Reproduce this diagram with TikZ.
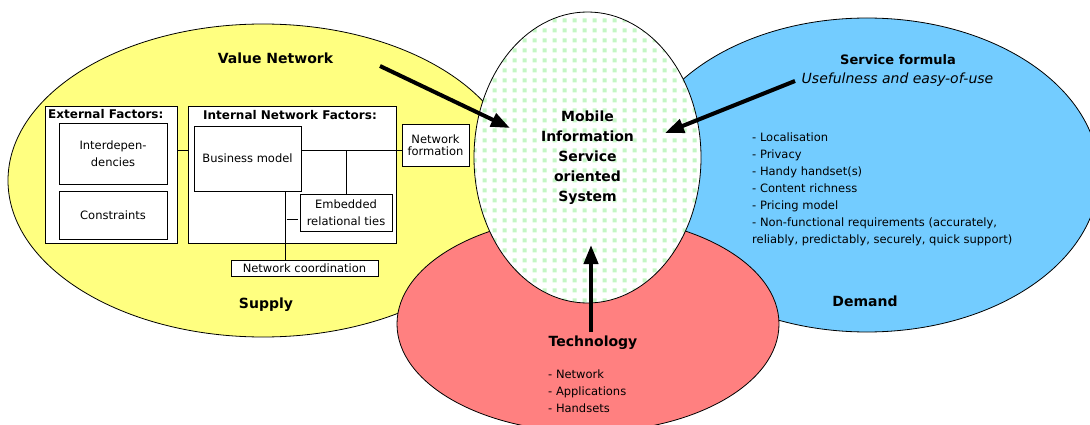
\documentclass[tikz,border=0pt]{standalone}
\usepackage{fontspec}
\setmainfont{DejaVu Sans}
\usetikzlibrary{calc}
\usetikzlibrary{arrows.meta}
\usetikzlibrary{shapes.geometric}
\usetikzlibrary{patterns}

\definecolor{supplyyellow}{RGB}{255,255,128}
\definecolor{demandblue}{RGB}{115,204,255}
\definecolor{techred}{RGB}{255,128,128}
\definecolor{dotgreen}{RGB}{196,246,196}

\pgfdeclarepatterninherentlycolored{misdots}{\pgfpointorigin}{\pgfpoint{10pt}{10pt}}{\pgfpoint{10pt}{10pt}}{
\pgfsetfillcolor{dotgreen}
\pgfpathrectangle{\pgfpoint{2.75pt}{2.75pt}}{\pgfpoint{4.5pt}{4.5pt}}
\pgfusepath{fill}
}

\begin{document}
\begin{tikzpicture}[x=1pt,y=-1pt,
  area/.style={ellipse,draw=black,line width=0.8pt,inner sep=0pt},
  fbox/.style={draw=black,line width=0.8pt,fill=white,inner sep=0pt,align=center,font=\fontsize{11.5}{16.7}\selectfont},
  boxtitle/.style={inner sep=0pt,font=\fontsize{12}{14}\selectfont\bfseries},
  head/.style={align=center,font=\fontsize{14}{20}\selectfont\bfseries},
  bullets/.style={inner sep=0pt,anchor=west,align=left,font=\fontsize{11.5}{17}\selectfont},
  wire/.style={draw=black,line width=0.8pt},
  bigarrow/.style={line width=4pt,-{Triangle[length=19pt,width=14pt]}}]

\useasboundingbox (0,0) rectangle (1090,425);
\clip (0,0) rectangle (1090,425);

\node[area,fill=supplyyellow,minimum width=510pt,minimum height=313pt] (supply) at (263,180.5) {};
\node[area,fill=demandblue,minimum width=464pt,minimum height=314pt] (demand) at (867,175) {};
\node[area,fill=techred,minimum width=382pt,minimum height=216pt] (tech) at (588,324) {};
\node[area,preaction={fill=white},pattern=misdots,minimum width=227pt,minimum height=291pt,
  align=center,font=\fontsize{14}{20}\selectfont\bfseries] (mis) at (587.5,157.5)
  {Mobile\\Information\\Service\\oriented\\System};

\node[head] (vnlabel) at (275.5,58) {Value Network};
\node[head] (supplylabel) at (266,305) {Supply};
\node[head,font=\fontsize{13}{16}\selectfont\bfseries] (sflabel) at (898,60) {Service formula};
\node[font=\fontsize{14}{16}\selectfont\itshape] (uselabel) at (897.5,80) {Usefulness and easy-of-use};
\node[head] (demandlabel) at (865,301) {Demand};
\node[head] (techlabel) at (593,343) {Technology};

\node[bullets] (demandlist) at (752,189) {- Localisation\\- Privacy\\- Handy handset(s)\\- Content richness\\- Pricing model\\- Non-functional requirements (accurately,\\reliably, predictably, securely, quick support)};
\node[bullets] (techlist) at (548,391.5) {- Network\\- Applications\\- Handsets};

\node[fbox,minimum width=132pt,minimum height=137pt] (ext) at (111,174.5) {};
\node[fbox,minimum width=208pt,minimum height=137pt] (int) at (292,174.5) {};
\node[boxtitle,anchor=west] (exttitle) at (48,114) {External Factors:};
\node[boxtitle] (inttitle) at (290,115) {Internal Network Factors:};

\node[fbox,minimum width=108pt,minimum height=61pt] (idp) at (113,153.5) {Interdepen-\\dencies};
\node[fbox,minimum width=108pt,minimum height=48pt] (cons) at (113,215) {Constraints};
\node[fbox,minimum width=107pt,minimum height=65pt] (bm) at (247.5,158.5) {Business model};
\node[fbox,minimum width=92pt,minimum height=37pt] (ert) at (346,212.5) {Embedded\\relational ties};
\node[fbox,minimum width=67pt,minimum height=42pt,font=\fontsize{11.5}{12}\selectfont] (nf) at (435.5,145) {Network\\formation};
\node[fbox,minimum width=147pt,minimum height=16pt] (nc) at (304.5,268) {Network coordination};

\coordinate (link) at (0,150);
\coordinate (drop) at (285,0);
\draw[wire] (ext.east |- link) -- (int.west |- link);
\draw[wire] (bm.east |- link) -- (nf.west |- link);
\draw[wire] (ert.north) -- (ert.north |- link);
\draw[wire] (bm.south -| drop) -- (nc.north -| drop);
\draw[wire] ($(ert.west)+(-13,6.5)$) -- ($(ert.west)+(-2,6.5)$);

\coordinate (vnfrom) at (380,66);
\coordinate (vnto) at (510,128);
\coordinate (sffrom) at (795,81);
\coordinate (sfto) at (665,133);
\coordinate (techfrom) at (591,332);
\coordinate (techto) at (591,245);
\draw[bigarrow] (vnfrom) -- (vnto);
\draw[bigarrow] (sffrom) -- (sfto);
\draw[bigarrow] (techfrom) -- (techto);

\end{tikzpicture}
\end{document}
